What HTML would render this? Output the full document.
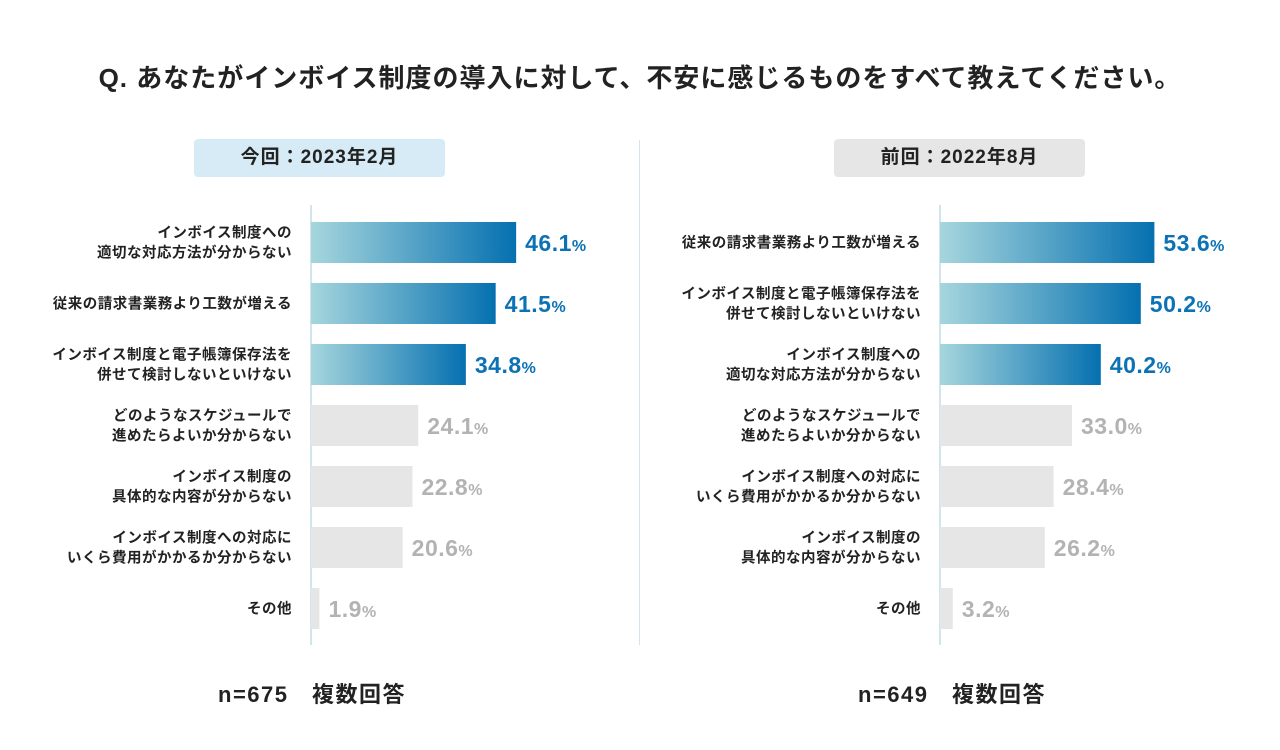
<!DOCTYPE html>
<html><head><meta charset="utf-8">
<style>
body{margin:0;width:1280px;height:750px;background:#fff;font-family:"Liberation Sans","Noto Sans CJK JP",sans-serif;position:relative;overflow:hidden;color:#222}
.abs{position:absolute}
.title{left:0;width:1280px;top:58px;text-align:center;font-size:26px;letter-spacing:1px;font-weight:bold;color:#222}
.pill{top:139px;height:38px;width:251px;border-radius:4px;text-align:center;line-height:38px;font-size:19px;letter-spacing:1px;font-weight:bold}
.foot{top:677px;font-size:22px;letter-spacing:1.5px;font-weight:bold}
</style></head><body>
<svg width="0" height="0" style="position:absolute"><defs><linearGradient id="g" x1="0" x2="1"><stop offset="0" stop-color="#a6d6dd"/><stop offset="1" stop-color="#0570b0"/></linearGradient></defs></svg>
<div class="abs title">Q. あなたがインボイス制度の導入に対して、不安に感じるものをすべて教えてください。</div>
<div class="abs pill" style="left:194px;background:#d6ebf5">今回：2023年2月</div>
<div class="abs pill" style="left:834px;background:#e6e6e6">前回：2022年8月</div>
<div class="abs" style="left:639px;top:140px;width:1px;height:505px;background:#cfe6ee"></div>
<div class="abs foot" style="left:218px">n=675　複数回答</div>
<div class="abs foot" style="left:858px">n=649　複数回答</div>
<svg id="chart" class="abs" style="left:0;top:0" width="1280" height="750"></svg>
<script>
const leftCats=["インボイス制度への\n適切な対応方法が分からない","従来の請求書業務より工数が増える","インボイス制度と電子帳簿保存法を\n併せて検討しないといけない","どのようなスケジュールで\n進めたらよいか分からない","インボイス制度の\n具体的な内容が分からない","インボイス制度への対応に\nいくら費用がかかるか分からない","その他"];
const leftVals=[46.1,41.5,34.8,24.1,22.8,20.6,1.9];
const rightCats=["従来の請求書業務より工数が増える","インボイス制度と電子帳簿保存法を\n併せて検討しないといけない","インボイス制度への\n適切な対応方法が分からない","どのようなスケジュールで\n進めたらよいか分からない","インボイス制度への対応に\nいくら費用がかかるか分からない","インボイス制度の\n具体的な内容が分からない","その他"];
const rightVals=[53.6,50.2,40.2,33.0,28.4,26.2,3.2];
const NS="http://www.w3.org/2000/svg";
const svg=document.getElementById('chart');
function draw(cats,vals,x0,scale,side){
  const ax=document.createElementNS(NS,'line');
  
  
  ax.setAttribute('x1',x0);ax.setAttribute('x2',x0);ax.setAttribute('y1',205);ax.setAttribute('y2',645);
  ax.setAttribute('stroke','#cfe6ee');ax.setAttribute('stroke-width','2');svg.appendChild(ax);
  vals.forEach((v,i)=>{
    const y=222+i*61, w=v*scale, hi=i<3;
    const r=document.createElementNS(NS,'rect');
    
    
    r.setAttribute('x',x0);r.setAttribute('y',y);r.setAttribute('width',w);r.setAttribute('height',41);
    r.setAttribute('fill',hi?'url(#g)':'#e6e6e6');svg.appendChild(r);
    const t=document.createElementNS(NS,'text');
    
    
    t.setAttribute('x',x0+w+9);t.setAttribute('y',y+29);
    t.setAttribute('font-size','23');t.setAttribute('font-weight','bold');t.setAttribute('letter-spacing','0.5');
    t.setAttribute('fill',hi?'#0b72b5':'#b3b3b3');
    t.innerHTML=v.toFixed(1)+'<tspan font-size="16">%</tspan>';svg.appendChild(t);
    const lines=cats[i].split('\n');
    const l=document.createElementNS(NS,'text');
    
    
    l.setAttribute('text-anchor','end');l.setAttribute('font-size','14.5');l.setAttribute('font-weight','bold');l.setAttribute('letter-spacing','0.5');l.setAttribute('fill','#222');
    const base=y+20.5-(lines.length-1)*10+5;
    lines.forEach((s,k)=>{const ts=document.createElementNS(NS,'tspan');ts.setAttribute('x',x0-19);ts.setAttribute('y',base+k*20);ts.textContent=s;l.appendChild(ts);});
    svg.appendChild(l);
  });
}
draw(leftCats,leftVals,311,4.45,'current');
draw(rightCats,rightVals,940,4.0,'previous');
</script>
</body></html>
